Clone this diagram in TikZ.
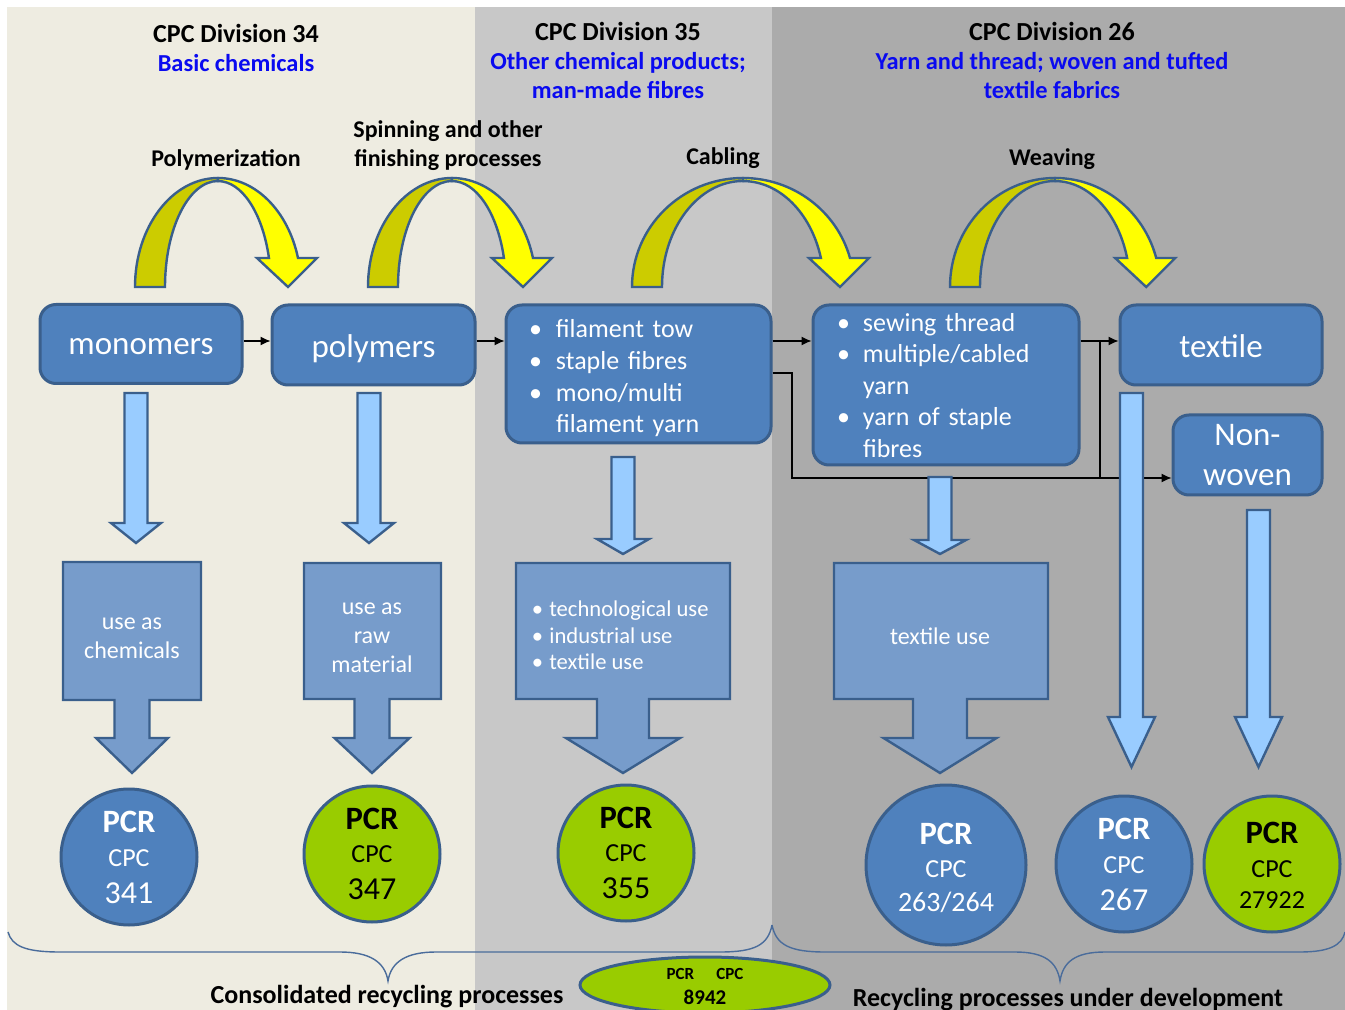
\documentclass[tikz,border=0pt]{standalone}
\usepackage{fontspec}
\setmainfont{Carlito}
\usetikzlibrary{arrows.meta,calc,shapes.geometric}
\definecolor{pbeige}{HTML}{EEECE1}
\definecolor{pgreyA}{HTML}{C8C8C8}
\definecolor{pgreyB}{HTML}{ABABAB}
\definecolor{boxblue}{HTML}{4F81BD}
\definecolor{edgeblue}{HTML}{3A5F8C}
\definecolor{callblue}{HTML}{779CCB}
\definecolor{lightblue}{HTML}{99CCFF}
\definecolor{pcrgreen}{HTML}{99CC00}
\definecolor{hdrblue}{HTML}{0A0AF0}
\definecolor{ydark}{HTML}{CCCC00}
\definecolor{ybright}{HTML}{FFFF00}
\definecolor{braceblue}{HTML}{4A6C9B}
\newcommand\hfont{\fontsize{13}{15}\selectfont\bfseries}
\newcommand\bfont{\fontsize{12.2}{15}\selectfont\bfseries}
\newcommand\lfont{\fontsize{12}{14}\selectfont\bfseries}
\newcommand\dropby[2]{\raisebox{-#1}[\height][\depth]{#2}}
% PCR circle labels: #1 circle name, #2 number size, #3 number, #4 PCR baseline above centre, #5 CPC baseline below centre, #6 number baseline below centre (px)
\newcommand\pcrlabels[6]{%
  \node[lbl, font=\fontsize{16.3}{18}\selectfont\bfseries] (#1a) at ($(#1)+(0,#4)$) {PCR};
  \node[lbl, font=\fontsize{13}{15}\selectfont] (#1b) at ($(#1)+(0,-#5)$) {CPC};
  \node[lbl, font=\fontsize{#2}{18}\selectfont] (#1c) at ($(#1)+(0,-#6)$) {#3};}
\newcommand\thinarrow[5]{%
  \filldraw[thinarr] (#1-11.5,-#2) -- (#1+11.5,-#2) -- (#1+11.5,-#3) -- (#1+#5,-#3) -- (#1,-#4) -- (#1-#5,-#3) -- (#1-11.5,-#3) -- cycle;}
\newcommand\callout[9]{%
  \filldraw[callarr] (#2,-#4) -- (#3,-#4) -- (#3,-#5) -- (#1+#6,-#5) -- (#1+#6,-738) -- (#1+#7,-738) -- (#1,-#9) -- (#1-#7,-738) -- (#1-#6,-738) -- (#1-#6,-#5) -- (#2,-#5) -- cycle;}
\newcommand\archarrow[2]{%
  \begin{scope}[shift={(#1,-287)}]
  \pgfmathsetmacro\aIn{#2-30}
  \pgfmathsetmacro\xo{0.9641*#2}
  \pgfmathsetmacro\xi{0.9616*\aIn}
  \filldraw[archdark] (-#2,0) arc[start angle=180,end angle=90,x radius=#2,y radius=109] -- (0,106) arc[start angle=90,end angle=180,x radius=\aIn,y radius=106] -- cycle;
  \filldraw[archbright] (0,109) arc[start angle=90,end angle=15.43,x radius=#2,y radius=109] -- (\xo+19,29) -- (\xo-10,0) -- (\xi-12,29) -- (\xi,29) arc[start angle=15.92,end angle=90,x radius=\aIn,y radius=106] -- cycle;
  \end{scope}}
\tikzset{
  bluebox/.style={draw=edgeblue, line width=1.5pt, fill=boxblue, rounded corners=8pt, text=white, inner sep=0pt, font=\fontsize{16.5}{20}\selectfont, align=center},
  pcrc/.style={circle, draw=edgeblue, line width=1.5pt, inner sep=0pt, minimum size=68pt},
  thinarr/.style={draw=edgeblue, line width=1.2pt, fill=lightblue},
  callarr/.style={draw=edgeblue, line width=1.2pt, fill=callblue},
  archdark/.style={draw=edgeblue, line width=1.2pt, fill=ydark},
  archbright/.style={draw=edgeblue, line width=1.2pt, fill=ybright},
  conn/.style={draw=black, line width=0.6pt, -{Latex[length=5pt,width=4.5pt]}},
  wire/.style={draw=black, line width=0.6pt},
  brace/.style={draw=braceblue, line width=0.7pt},
  lbl/.style={anchor=base, inner sep=0pt},
  calltxt/.style={inner sep=0pt, text=white, align=center, font=\fontsize{12}{14.5}\selectfont},
}
\begin{document}
\begin{tikzpicture}[x=0.5pt,y=0.5pt]
\useasboundingbox (0,0) rectangle (1345,-1010);
% panels
\fill[pbeige] (7,-7) rectangle (475,-1010);
\fill[pgreyA] (475,-7) rectangle (772,-1010);
\fill[pgreyB] (772,-7) rectangle (1345,-1010);
% braces
\draw[brace] (8,-932) .. controls (12,-946) and (25,-952) .. (60,-952) -- (340,-952) .. controls (370,-952) and (385,-962) .. (388,-981) .. controls (391,-962) and (406,-952) .. (436,-952) -- (720,-952) .. controls (755,-952) and (768,-945) .. (772,-925);
\draw[brace] (772,-925) .. controls (776,-945) and (790,-952) .. (825,-952) -- (1015,-952) .. controls (1045,-952) and (1057,-962) .. (1060,-981) .. controls (1063,-962) and (1075,-952) .. (1105,-952) -- (1300,-952) .. controls (1330,-952) and (1342,-945) .. (1345,-932);
% main boxes
\node[bluebox, minimum width=101pt, minimum height=39.5pt] (mono) at (141,-344) {\dropby{1.5pt}{monomers}};
\node[bluebox, minimum width=101.5pt, minimum height=40pt] (poly) at (373.5,-345) {\dropby{2pt}{polymers}};
\node[bluebox, minimum height=69pt, text width=109.5pt, inner xsep=11.5pt, align=left, font=\fontsize{13}{15.85}\selectfont] (fil) at (638.5,-374) {\dropby{2.5pt}{\begin{tabular}{@{}p{13.5pt}@{}l@{}}\textbullet & filament tow\\ \textbullet & staple fibres\\ \textbullet & mono/multi\\ & filament yarn\end{tabular}}};
\node[bluebox, minimum height=80pt, text width=109pt, inner xsep=12pt, align=left, font=\fontsize{13}{15.75}\selectfont] (sew) at (946,-385) {\dropby{1.5pt}{\begin{tabular}{@{}p{13pt}@{}l@{}}\textbullet & sewing thread\\ \textbullet & multiple/cabled\\ & yarn\\ \textbullet & yarn of staple\\ & fibres\end{tabular}}};
\node[bluebox, minimum width=101pt, minimum height=40pt] (tex) at (1221,-345) {\dropby{0.5pt}{textile}};
\node[bluebox, minimum width=74.5pt, minimum height=40pt] (nonw) at (1247.5,-455) {Non-\\woven};
% connectors
\coordinate (row) at (0,-341);
\coordinate (jn) at (1100,-478);
\coordinate (fb) at (792,-373);
\draw[conn] (mono.east |- row) -- (poly.west |- row);
\draw[conn] (poly.east |- row) -- (fil.west |- row);
\draw[conn] (fil.east |- row) -- (sew.west |- row);
\draw[conn] (sew.east |- row) -- (tex.west |- row);
\draw[wire] (jn |- row) -- (jn);
\draw[conn] (fil.east |- fb) -- (fb) -- (fb |- jn) -- (nonw.west |- jn);
% thin arrows
\thinarrow{136}{393}{523}{543}{25}
\thinarrow{369}{393}{523}{543}{25}
\thinarrow{623}{457}{539}{554}{26}
\thinarrow{940}{477}{540}{554}{26}
\thinarrow{1131.5}{393}{717}{767}{23.5}
\thinarrow{1258.5}{510}{717}{767}{23.5}
% callouts
\callout{132}{63}{201}{562}{700}{17.5}{36}{738}{773}
\callout{372}{304}{441}{563}{699}{17.5}{37.5}{738}{773}
\callout{623}{516}{730}{563}{699}{26}{57}{738}{773}
\callout{940}{834}{1048}{563}{699}{27}{56.5}{738}{773}
\node[calltxt] (u1) at (132,-638) {use as\\chemicals};
\node[calltxt] (u2) at (372,-638) {use as\\raw\\material};
\node[inner sep=0pt, text=white, anchor=west, font=\fontsize{11.3}{13.25}\selectfont] (u3) at (531.5,-638) {\begin{tabular}{@{}p{8.75pt}@{}l@{}}\textbullet & technological use\\ \textbullet & industrial use\\ \textbullet & textile use\end{tabular}};
\node[calltxt] (u4) at (940,-636) {textile use};
% PCR circles
\node[pcrc, fill=boxblue] (c341) at (129,-857) {};
\node[pcrc, fill=pcrgreen] (c347) at (372,-854) {};
\node[pcrc, fill=pcrgreen] (c355) at (626,-853) {};
\node[pcrc, fill=boxblue, minimum size=80pt] (c263) at (946,-865) {};
\node[pcrc, fill=boxblue] (c267) at (1124,-864) {};
\node[pcrc, fill=pcrgreen] (c279) at (1272,-864) {};
\begin{scope}[every node/.append style={text=white}]
\pcrlabels{c341}{16}{341}{24.5}{9.4}{46}
\pcrlabels{c263}{14}{263/264}{20.5}{12.4}{46}
\pcrlabels{c267}{16}{267}{24.5}{9.4}{46}
\end{scope}
\pcrlabels{c347}{16}{347}{24.5}{8.4}{45}
\pcrlabels{c355}{16}{355}{24.5}{8.4}{45}
\pcrlabels{c279}{13}{27922}{20.5}{13.4}{44}
\node[ellipse, draw=edgeblue, line width=1.5pt, fill=pcrgreen, minimum width=125pt, minimum height=28pt, inner sep=0pt] (e894) at (705,-985) {};
\node[lbl, font=\fontsize{8.5}{10}\selectfont\bfseries] (e894a) at (705,-979) {PCR\hspace{11pt}CPC};
\node[lbl, font=\fontsize{10.5}{12}\selectfont\bfseries] (e894b) at (705,-1004) {8942};
% curved arrows
\archarrow{218}{83}
\archarrow{452}{84}
\archarrow{743}{111}
\archarrow{1055}{105}
% headers
\node[lbl, font=\hfont] (h34a) at (236,-43) {CPC Division 34};
\node[lbl, font=\bfont, text=hdrblue] (h34b) at (236,-72) {Basic chemicals};
\node[lbl, font=\hfont] (h35a) at (618,-41) {CPC Division 35};
\node[lbl, font=\bfont, text=hdrblue] (h35b) at (618,-70) {Other chemical products;};
\node[lbl, font=\bfont, text=hdrblue] (h35c) at (618,-99) {man-made fibres};
\node[lbl, font=\hfont] (h26a) at (1052,-41) {CPC Division 26};
\node[lbl, font=\bfont, text=hdrblue] (h26b) at (1052,-70) {Yarn and thread; woven and tufted};
\node[lbl, font=\bfont, text=hdrblue] (h26c) at (1052,-99) {textile fabrics};
% process labels
\node[lbl, font=\lfont] (lpoly) at (226,-167) {Polymerization};
\node[lbl, font=\lfont] (lspin1) at (448,-138) {Spinning and other};
\node[lbl, font=\lfont] (lspin2) at (448,-167) {finishing processes};
\node[lbl, font=\lfont] (lcab) at (723,-165) {Cabling};
\node[lbl, font=\lfont] (lweave) at (1052,-166) {Weaving};
% bottom labels
\node[lbl, font=\hfont] (lcons) at (387,-1003) {Consolidated recycling processes};
\node[lbl, font=\hfont] (ldev) at (1068,-1006) {Recycling processes under development};
\end{tikzpicture}
\end{document}
